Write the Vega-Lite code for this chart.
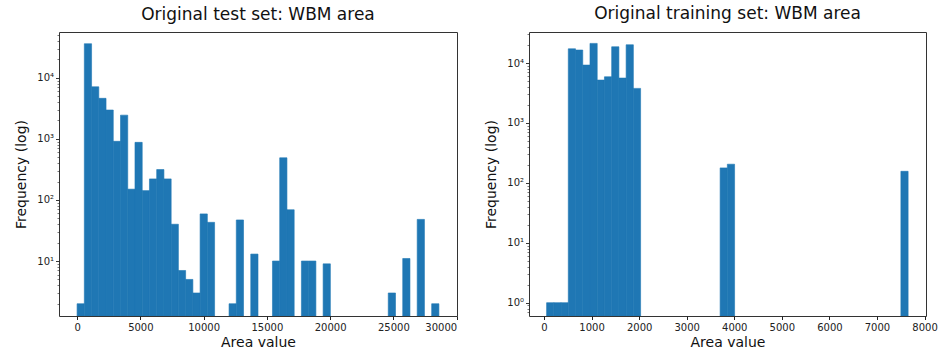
{
  "$schema": "https://vega.github.io/schema/vega-lite/v6.json",
  "background": "white",
  "padding": {"left": 14, "top": 4, "right": 5, "bottom": 5},
  "bounds": "flush",
  "spacing": 72,
  "datasets": {
    "test": [
      {"bin_start": 0, "bin_end": 572, "freq": 2},
      {"bin_start": 572, "bin_end": 1144, "freq": 36000},
      {"bin_start": 1144, "bin_end": 1716, "freq": 7100},
      {"bin_start": 1716, "bin_end": 2288, "freq": 4600},
      {"bin_start": 2288, "bin_end": 2860, "freq": 2960},
      {"bin_start": 2860, "bin_end": 3432, "freq": 910},
      {"bin_start": 3432, "bin_end": 4004, "freq": 2440},
      {"bin_start": 4004, "bin_end": 4576, "freq": 150},
      {"bin_start": 4576, "bin_end": 5148, "freq": 875},
      {"bin_start": 5148, "bin_end": 5720, "freq": 142},
      {"bin_start": 5720, "bin_end": 6292, "freq": 221},
      {"bin_start": 6292, "bin_end": 6864, "freq": 314},
      {"bin_start": 6864, "bin_end": 7436, "freq": 221},
      {"bin_start": 7436, "bin_end": 8008, "freq": 40},
      {"bin_start": 8008, "bin_end": 8580, "freq": 7},
      {"bin_start": 8580, "bin_end": 9152, "freq": 5},
      {"bin_start": 9152, "bin_end": 9724, "freq": 3},
      {"bin_start": 9724, "bin_end": 10296, "freq": 59},
      {"bin_start": 10296, "bin_end": 10868, "freq": 43},
      {"bin_start": 12012, "bin_end": 12584, "freq": 2},
      {"bin_start": 12584, "bin_end": 13156, "freq": 47},
      {"bin_start": 13728, "bin_end": 14300, "freq": 13},
      {"bin_start": 15444, "bin_end": 16016, "freq": 10},
      {"bin_start": 16016, "bin_end": 16588, "freq": 489},
      {"bin_start": 16588, "bin_end": 17160, "freq": 69},
      {"bin_start": 17732, "bin_end": 18304, "freq": 10},
      {"bin_start": 18304, "bin_end": 18876, "freq": 10},
      {"bin_start": 19448, "bin_end": 20020, "freq": 9},
      {"bin_start": 24596, "bin_end": 25168, "freq": 3},
      {"bin_start": 25740, "bin_end": 26312, "freq": 11},
      {"bin_start": 26884, "bin_end": 27456, "freq": 48},
      {"bin_start": 28028, "bin_end": 28600, "freq": 2}
    ],
    "train": [
      {"bin_start": 55, "bin_end": 207, "freq": 1},
      {"bin_start": 207, "bin_end": 359, "freq": 1},
      {"bin_start": 359, "bin_end": 511, "freq": 1},
      {"bin_start": 511, "bin_end": 663, "freq": 17300},
      {"bin_start": 663, "bin_end": 815, "freq": 16500},
      {"bin_start": 815, "bin_end": 967, "freq": 9260},
      {"bin_start": 967, "bin_end": 1119, "freq": 21300},
      {"bin_start": 1119, "bin_end": 1271, "freq": 5200},
      {"bin_start": 1271, "bin_end": 1423, "freq": 5900},
      {"bin_start": 1423, "bin_end": 1575, "freq": 18700},
      {"bin_start": 1575, "bin_end": 1727, "freq": 5620},
      {"bin_start": 1727, "bin_end": 1879, "freq": 20200},
      {"bin_start": 1879, "bin_end": 2031, "freq": 3780},
      {"bin_start": 3703, "bin_end": 3855, "freq": 178},
      {"bin_start": 3855, "bin_end": 4007, "freq": 205},
      {"bin_start": 7503, "bin_end": 7655, "freq": 156}
    ]
  },
  "config": {
    "font": "DejaVu Sans",
    "view": {"stroke": "#333", "strokeWidth": 1},
    "rect": {"color": "#1f77b4", "stroke": "#1f77b4", "strokeWidth": 0.6},
    "axis": {
      "grid": false,
      "domain": false,
      "labelFont": "DejaVu Sans",
      "labelFontSize": 10,
      "labelColor": "#222",
      "tickColor": "#222",
      "tickSize": 3.5,
      "titleFont": "DejaVu Sans",
      "titleFontSize": 14,
      "titleFontWeight": "normal",
      "titleColor": "#111"
    },
    "title": {"font": "DejaVu Sans", "fontSize": 17, "fontWeight": "normal", "color": "#111", "offset": 6}
  },
  "hconcat": [
    {
      "width": 398,
      "height": 284,
      "title": "Original test set: WBM area",
      "data": {"name": "test"},
      "mark": {"type": "rect", "clip": true},
      "encoding": {
        "x": {"field": "bin_start", "type": "quantitative",
              "scale": {"domain": [-1430, 30030], "nice": false, "zero": false},
              "axis": {"title": "Area value", "values": [0, 5000, 10000, 15000, 20000, 25000, 30000], "format": "d", "labelPadding": 3, "titlePadding": 3}},
        "x2": {"field": "bin_end"},
        "y": {"field": "freq", "type": "quantitative",
              "scale": {"type": "log", "domain": [1.26, 56000], "nice": false},
              "axis": {"title": "Frequency (log)",
                       "values": [2,3,4,5,6,7,8,9,10,20,30,40,50,60,70,80,90,100,200,300,400,500,600,700,800,900,1000,2000,3000,4000,5000,6000,7000,8000,9000,10000,20000,30000,40000,50000],
                       "tickSize": {"condition": {"test": "indexof([1,10,100,1000,10000], datum.value) >= 0", "value": 3.5}, "value": 2},
                       "tickWidth": {"condition": {"test": "indexof([1,10,100,1000,10000], datum.value) >= 0", "value": 0.9}, "value": 0.6},
                       "labelExpr": "datum.value == 1 ? '10⁰' : datum.value == 10 ? '10¹' : datum.value == 100 ? '10²' : datum.value == 1000 ? '10³' : datum.value == 10000 ? '10⁴' : ''",
                       "labelOverlap": false,
                       "titlePadding": 8}},
        "y2": {"value": "height"}
      }
    },
    {
      "width": 397,
      "height": 284,
      "title": "Original training set: WBM area",
      "data": {"name": "train"},
      "mark": {"type": "rect", "clip": true},
      "encoding": {
        "x": {"field": "bin_start", "type": "quantitative",
              "scale": {"domain": [-315, 8031], "nice": false, "zero": false},
              "axis": {"title": "Area value", "values": [0, 1000, 2000, 3000, 4000, 5000, 6000, 7000, 8000], "format": "d", "labelPadding": 3, "titlePadding": 3}},
        "x2": {"field": "bin_end"},
        "y": {"field": "freq", "type": "quantitative",
              "scale": {"type": "log", "domain": [0.6, 33000], "nice": false},
              "axis": {"title": "Frequency (log)",
                       "values": [0.7,0.8,0.9,1,2,3,4,5,6,7,8,9,10,20,30,40,50,60,70,80,90,100,200,300,400,500,600,700,800,900,1000,2000,3000,4000,5000,6000,7000,8000,9000,10000,20000,30000],
                       "tickSize": {"condition": {"test": "indexof([1,10,100,1000,10000], datum.value) >= 0", "value": 3.5}, "value": 2},
                       "tickWidth": {"condition": {"test": "indexof([1,10,100,1000,10000], datum.value) >= 0", "value": 0.9}, "value": 0.6},
                       "labelExpr": "datum.value == 1 ? '10⁰' : datum.value == 10 ? '10¹' : datum.value == 100 ? '10²' : datum.value == 1000 ? '10³' : datum.value == 10000 ? '10⁴' : ''",
                       "labelOverlap": false,
                       "titlePadding": 8}},
        "y2": {"value": "height"}
      }
    }
  ]
}
